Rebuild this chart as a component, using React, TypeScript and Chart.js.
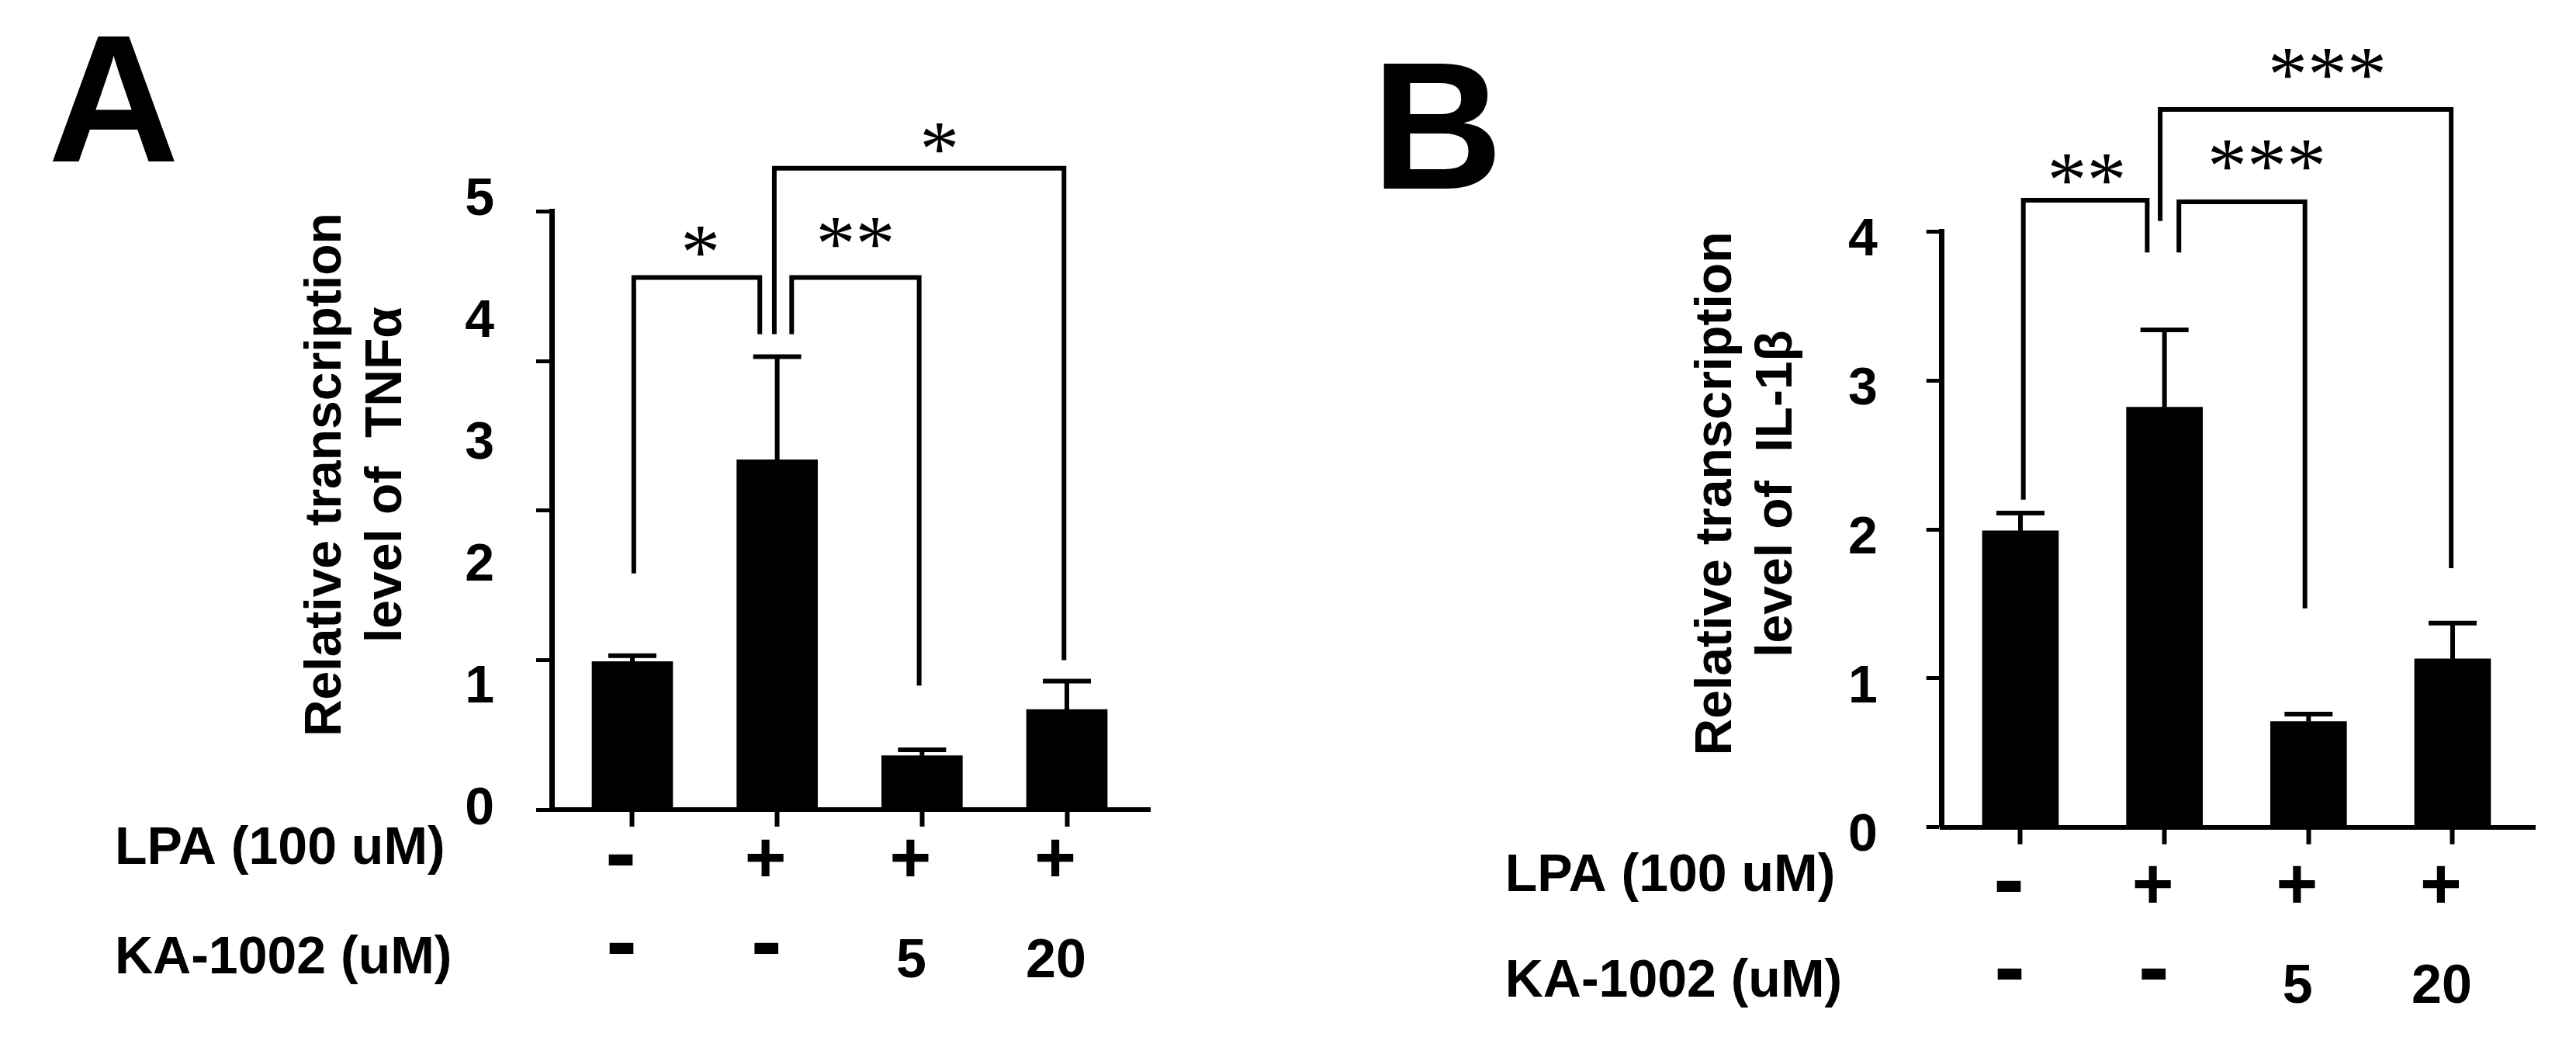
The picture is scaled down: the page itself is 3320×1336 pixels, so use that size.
import React, { useEffect, useRef } from 'react';
import { Chart, registerables } from 'chart.js';

Chart.register(...registerables);

const SANS = "'Liberation Sans', Arial, sans-serif";
const SERIF = "'Liberation Serif', 'Times New Roman', serif";
const DASH = "'DejaVu Sans', 'Liberation Sans', sans-serif";

// ---- shared categories / x tick rows ----
const conditions = ['control', 'LPA', 'LPA + KA-1002 5', 'LPA + KA-1002 20'];
const lpaRow = ['-', '+', '+', '+'];
const kaRow = ['-', '-', '5', '20'];
const rowHeaders = ['LPA (100 uM)', 'KA-1002 (uM)'];

// ---- Panel A: TNFα ----
const tnfValues = [0.99, 2.34, 0.36, 0.67];
const tnfErrors = [0.04, 0.69, 0.04, 0.19];
const tnfTickMarks = [0, 1, 2, 3, 4];
const tnfTickLabels = [0, 1, 2, 3, 4, 5];
const tnfTitle = ['Relative transcription', 'level of  TNFα'];
const tnfBrackets = [
  { x1: 1.01, x2: 1.88, y: 3.56, leftEnd: 1.58, rightEnd: 3.18, text: '*', tx: 1.47, ty: 3.8 },
  { x1: 2.1, x2: 2.98, y: 3.56, leftEnd: 3.18, rightEnd: 0.83, text: '**', tx: 2.54, ty: 3.86 },
  { x1: 1.98, x2: 3.98, y: 4.29, leftEnd: 3.18, rightEnd: 1.0, text: '*', tx: 3.12, ty: 4.49 },
];

// ---- Panel B: IL-1β ----
const il1bValues = [1.99, 2.82, 0.71, 1.13];
const il1bErrors = [0.12, 0.52, 0.05, 0.24];
const il1bTickMarks = [0, 1, 2, 3, 4];
const il1bTickLabels = [0, 1, 2, 3, 4];
const il1bTitle = ['Relative transcription', 'level of  IL-1β'];
const il1bBrackets = [
  { x1: 1.02, x2: 1.88, y: 4.21, leftEnd: 2.2, rightEnd: 3.86, text: '**', tx: 1.46, ty: 4.42 },
  { x1: 2.1, x2: 2.975, y: 4.2, leftEnd: 3.86, rightEnd: 1.47, text: '***', tx: 2.71, ty: 4.51 },
  { x1: 1.97, x2: 3.99, y: 4.82, leftEnd: 4.07, rightEnd: 1.74, text: '***', tx: 3.13, ty: 5.13 },
];

type Bracket = {
  x1: number; x2: number; y: number; leftEnd: number; rightEnd: number;
  text: string; tx: number; ty: number;
};

type Layout = {
  letter: string;
  letterX: number;
  letterY: number;
  padding: { left: number; right: number; top: number; bottom: number };
  xMin: number;
  xMax: number;
  barThickness: number;
  yMax: number;
  labelMax: number;
  labelOffset: number;
  labelPad: number;
  row1Pad: number;
  row2Pad: number;
  rowY: number[];
};

const layoutA: Layout = {
  letter: 'A', letterX: 67, letterY: 47,
  padding: { left: 541, right: 178, top: 272.7, bottom: 33 },
  xMin: 0.443, xMax: 4.573, barThickness: 104,
  yMax: 4, labelMax: 4.906, labelOffset: 0, labelPad: 46,
  row1Pad: -9, row2Pad: -1, rowY: [51, 192],
};

const layoutB: Layout = {
  letter: 'B', letterX: 123, letterY: 81,
  padding: { left: 672.7, right: 53, top: 298.3, bottom: 10.3 },
  xMin: 0.4545, xMax: 4.571, barThickness: 98,
  yMax: 4, labelMax: 4, labelOffset: 12, labelPad: 55,
  row1Pad: 2, row2Pad: 9, rowY: [64, 200],
};

const W = 1660;
const H = 1336;

type PanelProps = {
  values: number[];
  errors: number[];
  tickMarks: number[];
  tickLabels: number[];
  title: string[];
  brackets: Bracket[];
  layout: Layout;
};

function Panel({ values, errors, tickMarks, tickLabels, title, brackets, layout: L }: PanelProps) {
  const ref = useRef<HTMLCanvasElement>(null);

  useEffect(() => {
    const canvas = ref.current;
    if (!canvas) return;

    const annot = {
      id: 'annot',
      afterDatasetsDraw(chart: any) {
        const ctx = chart.ctx;
        const ys = chart.scales.y;
        const meta = chart.getDatasetMeta(0);
        ctx.save();
        ctx.strokeStyle = '#000';
        ctx.lineWidth = 6;
        ctx.lineCap = 'butt';
        meta.data.forEach((el: any, i: number) => {
          const top = ys.getPixelForValue(values[i] + errors[i]);
          ctx.beginPath();
          ctx.moveTo(el.x, el.y);
          ctx.lineTo(el.x, top);
          ctx.stroke();
          ctx.beginPath();
          ctx.moveTo(el.x - 31, top);
          ctx.lineTo(el.x + 31, top);
          ctx.stroke();
        });
        ctx.restore();
      },
      afterDraw(chart: any) {
        const ctx = chart.ctx;
        const xs = chart.scales.x;
        const ys = chart.scales.y;
        const area = chart.chartArea;
        ctx.save();
        ctx.strokeStyle = '#000';
        ctx.fillStyle = '#000';
        ctx.lineWidth = 6;
        ctx.lineJoin = 'miter';
        ctx.lineCap = 'butt';
        // significance brackets
        for (const b of brackets) {
          const px1 = xs.getPixelForValue(b.x1);
          const px2 = xs.getPixelForValue(b.x2);
          const py = ys.getPixelForValue(b.y);
          ctx.beginPath();
          ctx.moveTo(px1, ys.getPixelForValue(b.leftEnd));
          ctx.lineTo(px1, py);
          ctx.lineTo(px2, py);
          ctx.lineTo(px2, ys.getPixelForValue(b.rightEnd));
          ctx.stroke();
          ctx.font = `normal 102px ${SERIF}`;
          ctx.textAlign = 'center';
          ctx.textBaseline = 'alphabetic';
          const m = ctx.measureText(b.text);
          const cy = ys.getPixelForValue(b.ty);
          ctx.fillText(
            b.text,
            xs.getPixelForValue(b.tx),
            cy + (m.actualBoundingBoxAscent - m.actualBoundingBoxDescent) / 2
          );
        }
        // y-axis title (two rotated lines)
        ctx.font = `bold 66px ${SANS}`;
        ctx.textAlign = 'center';
        ctx.textBaseline = 'middle';
        const titleOffsets = [-290, -212];
        const cy = area.top + 0.44 * (area.bottom - area.top);
        title.forEach((line, i) => {
          ctx.save();
          ctx.translate(area.left + titleOffsets[i], cy);
          ctx.rotate(-Math.PI / 2);
          ctx.fillText(line, 0, 0);
          ctx.restore();
        });
        // row headers
        ctx.font = `bold 68px ${SANS}`;
        ctx.textAlign = 'left';
        ctx.textBaseline = 'middle';
        rowHeaders.forEach((h, i) => {
          ctx.fillText(h, area.left - 563, area.bottom + L.rowY[i]);
        });
        // panel letter
        ctx.font = `bold 234px ${SANS}`;
        ctx.textAlign = 'left';
        ctx.textBaseline = 'alphabetic';
        const lm = ctx.measureText(L.letter);
        ctx.fillText(L.letter, L.letterX + lm.actualBoundingBoxLeft, L.letterY + lm.actualBoundingBoxAscent);
        ctx.restore();
      },
    };

    const setTicks = (s: any) => {
      s.ticks = conditions.map((_c, i) => ({ value: i + 1 }));
    };

    const chart = new Chart(canvas, {
      type: 'bar',
      data: {
        labels: conditions,
        datasets: [
          {
            data: values.map((v, i) => ({ x: i + 1, y: v })) as any,
            backgroundColor: '#000',
            borderWidth: 0,
            barThickness: L.barThickness,
          },
        ],
      },
      options: {
        animation: false,
        responsive: false,
        maintainAspectRatio: false,
        devicePixelRatio: 1,
        events: [],
        layout: { padding: L.padding },
        plugins: {
          legend: { display: false },
          tooltip: { enabled: false },
          title: { display: false },
        },
        scales: {
          x: {
            type: 'linear',
            position: 'bottom',
            weight: 0,
            min: L.xMin,
            max: L.xMax,
            offset: false,
            bounds: 'data',
            grid: {
              display: true,
              drawOnChartArea: false,
              drawTicks: true,
              tickLength: 22,
              tickWidth: 6,
              tickColor: '#000',
              color: '#000',
              offset: false,
            },
            border: { display: true, color: '#000', width: 6 },
            ticks: {
              autoSkip: false,
              maxRotation: 0,
              minRotation: 0,
              color: '#000',
              padding: L.row1Pad,
              labelOffset: -15,
              font: (c: any) =>
                lpaRow[c.index] === '-'
                  ? { family: DASH, size: 100, weight: 'bold', lineHeight: '110px' }
                  : { family: SANS, size: 92, weight: 'bold', lineHeight: '110px' },
              callback: (_v: any, index: number) => lpaRow[index],
            },
            afterBuildTicks: setTicks,
            afterFit: (s: any) => {
              s.height = 140;
            },
          } as any,
          x2: {
            type: 'linear',
            position: 'bottom',
            weight: 1,
            min: L.xMin,
            max: L.xMax,
            offset: false,
            bounds: 'data',
            grid: { display: false, drawOnChartArea: false },
            border: { display: false },
            ticks: {
              autoSkip: false,
              maxRotation: 0,
              minRotation: 0,
              color: '#000',
              padding: L.row2Pad,
              labelOffset: -14,
              font: (c: any) =>
                kaRow[c.index] === '-'
                  ? { family: DASH, size: 100, weight: 'bold', lineHeight: '70px' }
                  : { family: SANS, size: 70, weight: 'bold', lineHeight: '100px' },
              callback: (_v: any, index: number) => kaRow[index],
            },
            afterBuildTicks: setTicks,
            afterFit: (s: any) => {
              s.height = 120;
            },
          } as any,
          y: {
            type: 'linear',
            position: 'left',
            weight: 0,
            min: 0,
            max: L.yMax,
            grid: {
              display: true,
              drawOnChartArea: false,
              drawTicks: true,
              tickLength: 20,
              tickWidth: 5,
              tickColor: '#000',
              color: '#000',
            },
            border: { display: true, color: '#000', width: 7 },
            ticks: { display: false },
            afterBuildTicks: (s: any) => {
              s.ticks = tickMarks.map((v) => ({ value: v }));
            },
            afterFit: (s: any) => {
              s.width = 20;
            },
          } as any,
          yl: {
            type: 'linear',
            position: 'left',
            weight: 1,
            min: 0,
            max: L.labelMax,
            grid: { display: false, drawOnChartArea: false },
            border: { display: false },
            ticks: {
              autoSkip: false,
              color: '#000',
              padding: L.labelPad,
              labelOffset: L.labelOffset,
              font: { family: SANS, size: 68, weight: 'bold' },
              callback: (v: any) => String(v),
            },
            afterBuildTicks: (s: any) => {
              s.ticks = tickLabels.map((v) => ({ value: v }));
            },
            afterFit: (s: any) => {
              s.width = 150;
            },
          } as any,
        },
      },
      plugins: [annot],
    });

    return () => chart.destroy();
  }, []);

  return <canvas ref={ref} width={W} height={H} style={{ display: 'block', width: W, height: H }} />;
}

export default function App() {
  return (
    <div
      style={{
        position: 'absolute',
        left: 0,
        top: 0,
        width: 3320,
        height: 1336,
        background: '#fff',
        display: 'flex',
        flexDirection: 'row',
      }}
    >
      <Panel
        values={tnfValues}
        errors={tnfErrors}
        tickMarks={tnfTickMarks}
        tickLabels={tnfTickLabels}
        title={tnfTitle}
        brackets={tnfBrackets}
        layout={layoutA}
      />
      <Panel
        values={il1bValues}
        errors={il1bErrors}
        tickMarks={il1bTickMarks}
        tickLabels={il1bTickLabels}
        title={il1bTitle}
        brackets={il1bBrackets}
        layout={layoutB}
      />
    </div>
  );
}
